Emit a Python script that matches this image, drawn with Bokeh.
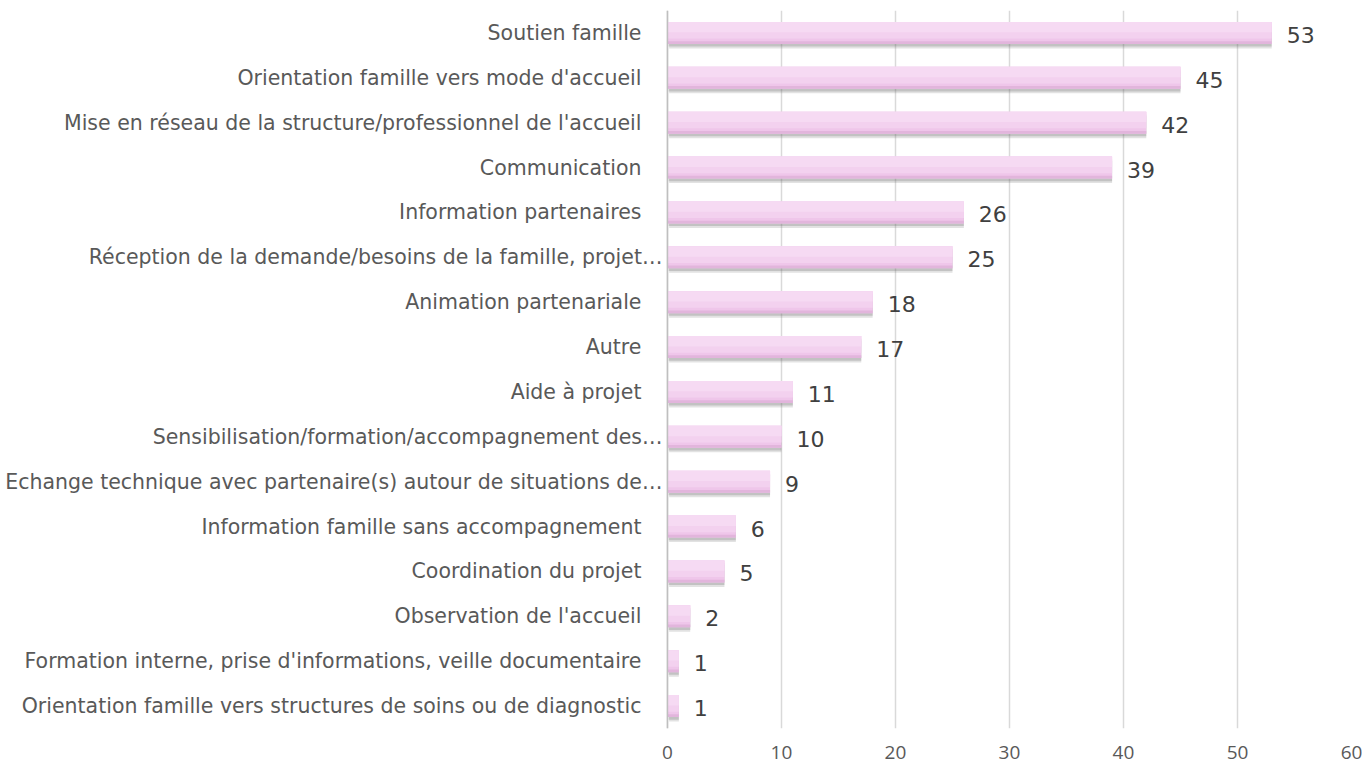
from bokeh.plotting import figure
from bokeh.models import ColumnDataSource, FixedTicker, Span
from bokeh.core.properties import value
from bokeh.transform import dodge
from bokeh.embed import file_html
from bokeh.resources import INLINE

categories = [
    "Soutien famille",
    "Orientation famille vers mode d'accueil",
    "Mise en réseau de la structure/professionnel de l'accueil",
    "Communication",
    "Information partenaires",
    "Réception de la demande/besoins de la famille, projet…",
    "Animation partenariale",
    "Autre",
    "Aide à projet",
    "Sensibilisation/formation/accompagnement des…",
    "Echange technique avec partenaire(s) autour de situations de…",
    "Information famille sans accompagnement",
    "Coordination du projet",
    "Observation de l'accueil",
    "Formation interne, prise d'informations, veille documentaire",
    "Orientation famille vers structures de soins ou de diagnostic",
]
values = [53, 45, 42, 39, 26, 25, 18, 17, 11, 10, 9, 6, 5, 2, 1, 1]
x_ticks = [0, 10, 20, 30, 40, 50, 60]

FONT = "DejaVu Sans"
TICK_FONT = "Open Sans"
order = list(reversed(categories))

src = ColumnDataSource(dict(
    cat=categories,
    val=values,
    lbl=[str(v) for v in values],
    zero=[0] * len(values),
    loff=[-5 if c.endswith("…") else -26 for c in categories],
))

# frame spans the full width; data x=0 sits at ~667px, x=60 at ~1351px
p = figure(width=1362, height=766, y_range=order, x_range=(-58.5, 60),
           output_backend="svg", toolbar_location=None,
           min_border_left=0, min_border_right=11, min_border_top=10, min_border_bottom=38)
p.outline_line_color = None
p.background_fill_color = "white"
p.border_fill_color = "white"

p.xgrid.ticker = FixedTicker(ticks=x_ticks)
p.xgrid.grid_line_color = "#d9d9d9"
p.xgrid.grid_line_width = 1.5
p.ygrid.grid_line_color = None

p.xaxis.ticker = FixedTicker(ticks=x_ticks)
p.xaxis.axis_line_color = None
p.xaxis.major_tick_line_color = None
p.xaxis.minor_tick_line_color = None
p.xaxis.major_label_text_font = TICK_FONT
p.xaxis.major_label_text_font_size = "19px"
p.xaxis.major_label_text_color = "#595959"
p.xaxis.major_label_standoff = 11

p.yaxis.visible = False

p.add_layout(Span(location=0, dimension="height", line_color="#bfbfbf", line_width=1.5))

# soft shadow
p.hbar(y=dodge("cat", -0.1, range=p.y_range), left=0.15, right="val", height=0.49,
       source=src, fill_color="#707070", fill_alpha=0.2, line_color=None)
p.hbar(y=dodge("cat", -0.06, range=p.y_range), left=0.1, right="val", height=0.49,
       source=src, fill_color="#707070", fill_alpha=0.28, line_color=None)
# main bar (simulated vertical gradient)
p.hbar(y="cat", left=0, right="val", height=0.49, source=src,
       fill_color="#efc6ea", line_color=None)
p.hbar(y=dodge("cat", 0.06, range=p.y_range), left=0, right="val", height=0.37,
       source=src, fill_color="#f3d1ef", line_color=None)
p.hbar(y=dodge("cat", 0.13, range=p.y_range), left=0, right="val", height=0.23,
       source=src, fill_color="#f6daf3", line_color=None)
p.hbar(y=dodge("cat", -0.215, range=p.y_range), left=0, right="val", height=0.06,
       source=src, fill_color="#e2b5dc", line_color=None)

# value labels
p.text(x="val", y="cat", text="lbl", source=src, x_offset=15, y_offset=2,
       text_font=value(FONT), text_font_size="22px", text_color="#404040",
       text_baseline="middle")
# category labels
p.text(x="zero", y="cat", text="cat", source=src, x_offset="loff",
       text_align="right", text_baseline="middle",
       text_font=value(FONT), text_font_size="20.5px", text_color="#595959")

open("out.html", "w").write(file_html(p, INLINE))
